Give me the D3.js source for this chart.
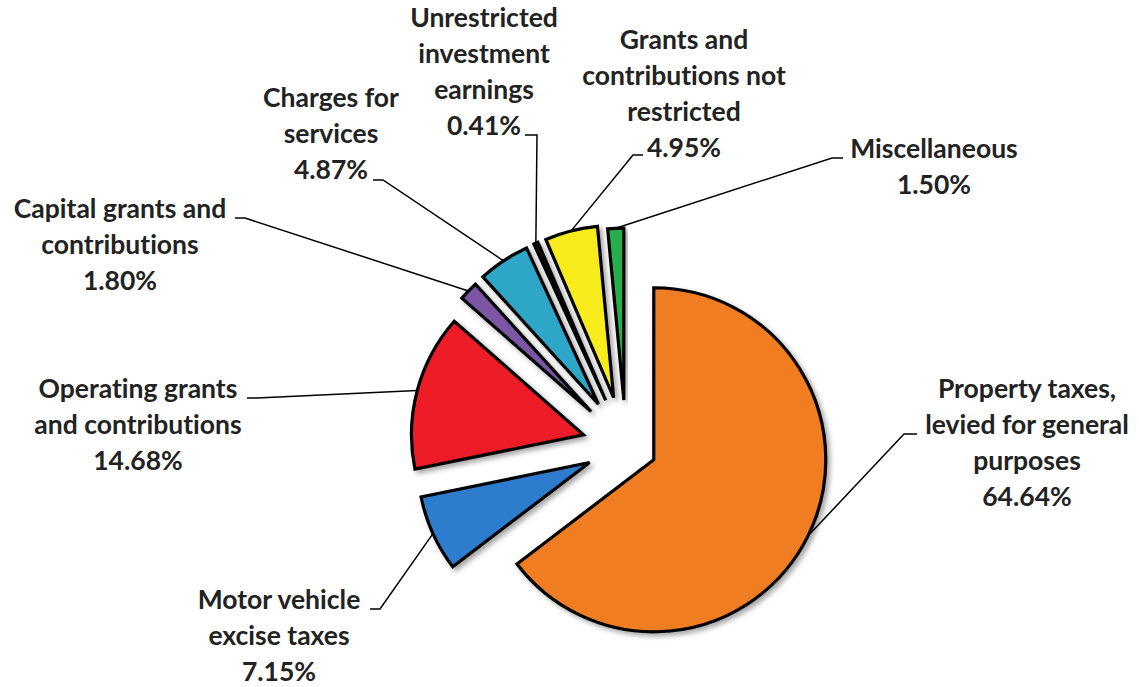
<!DOCTYPE html>
<html>
<head>
<meta charset="utf-8">
<script src="https://cdn.jsdelivr.net/npm/d3@7"></script>
<style>
  body { margin: 0; background: #fff; }
  svg text { font-family: Lato, "Open Sans", sans-serif; font-weight: 700; fill: #222; font-variant-ligatures: none; }
</style>
</head>
<body>
<svg id="chart"></svg>
<script>
// Data
const categories = [
    "Property taxes, levied for general purposes",
    "Motor vehicle excise taxes",
    "Operating grants and contributions",
    "Capital grants and contributions",
    "Charges for services",
    "Unrestricted investment earnings",
    "Grants and contributions not restricted",
    "Miscellaneous"
];
const labelLines = [
    ["Property taxes,", "levied for general", "purposes"],
    ["Motor vehicle", "excise taxes"],
    ["Operating grants", "and contributions"],
    ["Capital grants and", "contributions"],
    ["Charges for", "services"],
    ["Unrestricted", "investment", "earnings"],
    ["Grants and", "contributions not", "restricted"],
    ["Miscellaneous"]
];
const percents = [64.64, 7.15, 14.68, 1.80, 4.87, 0.41, 4.95, 1.50];

// Styling / layout
const colors = ["#F07D23", "#2E7BCD", "#EE1F26", "#7B55A5", "#2FA6C8", "#111111", "#F8EC1F", "#27AE4E"];
const explode = [31, 40, 44, 49, 50, 50, 50, 46];
const width = 1139;
const height = 687;
const center = { x: 626, y: 446 };
const radius = 172;
const lineHeight = 36;
const fontSize = 26.5;

// label block position (center x, first baseline) and leader start / elbow
const labelLayout = [
    { x: 1027, y: 398, ax: 917, ay: 434, ex: 904, ey: 434 },
    { x: 279, y: 609, ax: 370, ay: 609, ex: 380, ey: 609 },
    { x: 138, y: 398, ax: 247, ay: 398, ex: 257, ey: 398 },
    { x: 120, y: 218, ax: 235, ay: 218, ex: 245, ey: 218 },
    { x: 331, y: 107, ax: 373, ay: 180, ex: 383, ey: 180 },
    { x: 484, y: 27, ax: 525, ay: 135, ex: 537, ey: 135 },
    { x: 684, y: 49, ax: 643, ay: 155, ex: 633, ey: 155 },
    { x: 934, y: 158, ax: 843, ay: 158, ex: 832, ey: 158 }
];

const svg = d3.select("#chart")
    .attr("width", width)
    .attr("height", height);

// soft shadow like the original
const defs = svg.append("defs");
const shadow = defs.append("filter")
    .attr("id", "shadow")
    .attr("x", "-20%").attr("y", "-20%")
    .attr("width", "140%").attr("height", "140%");
shadow.append("feDropShadow")
    .attr("dx", 3).attr("dy", 3)
    .attr("stdDeviation", 2.5)
    .attr("flood-color", "#000")
    .attr("flood-opacity", 0.35);

const pie = d3.pie().sort(null).startAngle(0).endAngle(2 * Math.PI);
const arcs = pie(percents);
const arc = d3.arc().innerRadius(0).outerRadius(radius);

const midAngle = d => (d.startAngle + d.endAngle) / 2;

const chart = svg.append("g")
    .attr("transform", `translate(${center.x},${center.y})`);

// slices, each pushed out along its middle angle
chart.selectAll("path.slice")
    .data(arcs)
    .join("path")
    .attr("class", "slice")
    .attr("transform", (d, i) => {
        const a = midAngle(d);
        return `translate(${Math.sin(a) * explode[i]},${-Math.cos(a) * explode[i]})`;
    })
    .attr("d", arc)
    .attr("fill", (d, i) => colors[i])
    .attr("stroke", "#000")
    .attr("stroke-width", 3.2)
    .attr("stroke-linejoin", "miter")
    .attr("filter", "url(#shadow)");

// leader lines
const leaders = svg.append("g");
arcs.forEach((d, i) => {
    const a = midAngle(d);
    const r = explode[i] + radius;
    const px = center.x + Math.sin(a) * r;
    const py = center.y - Math.cos(a) * r;
    const L = labelLayout[i];
    leaders.append("path")
        .attr("d", d3.line()([[L.ax, L.ay], [L.ex, L.ey], [px, py]]))
        .attr("fill", "none")
        .attr("stroke", "#000")
        .attr("stroke-width", 1.5);
});

// labels
const labels = svg.append("g");
arcs.forEach((d, i) => {
    const L = labelLayout[i];
    const lines = labelLines[i].concat([percents[i].toFixed(2) + "%"]);
    const t = labels.append("text")
        .attr("text-anchor", "middle")
        .style("font-size", fontSize + "px");
    lines.forEach((s, k) => {
        t.append("tspan")
            .attr("x", L.x)
            .attr("y", L.y + k * lineHeight)
            .text(s);
    });
});
</script>
</body>
</html>
